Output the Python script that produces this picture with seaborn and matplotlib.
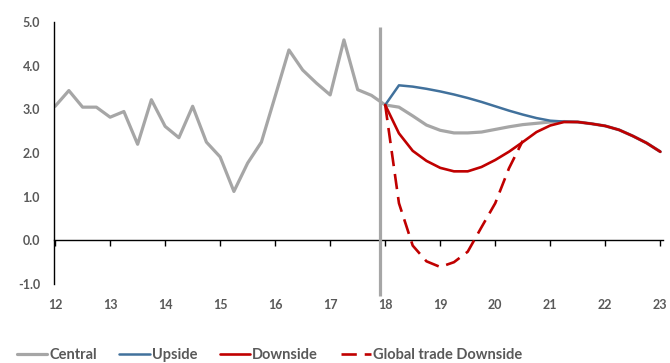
import numpy as np
import pandas as pd
import seaborn as sns
import matplotlib.pyplot as plt

# Trimestres 2012T1 .. 2023T1 (eje en años abreviados)
quarters = np.arange(12, 23.01, 0.25)

central_hist = [3.07, 3.43, 3.05, 3.05, 2.82, 2.95, 2.20, 3.22,
                2.61, 2.35, 3.07, 2.25, 1.91, 1.12, 1.77, 2.25,
                3.30, 4.36, 3.90, 3.60, 3.33, 4.59, 3.45, 3.32]
central_fcst = [3.10, 3.05, 2.85, 2.64, 2.52, 2.46, 2.46, 2.48,
                2.54, 2.60, 2.65, 2.68, 2.71, 2.72]
upside_fcst = [3.10, 3.55, 3.52, 3.47, 3.41, 3.34, 3.26, 3.17,
               3.07, 2.97, 2.88, 2.80, 2.74, 2.72]
downside_fcst = [3.10, 2.45, 2.05, 1.82, 1.66, 1.58, 1.58, 1.68,
                 1.84, 2.03, 2.25, 2.48, 2.63, 2.71]
common_tail = [2.71, 2.67, 2.62, 2.53, 2.39, 2.23, 2.03]
global_trade = [3.10, 0.85, -0.12, -0.48, -0.61, -0.50, -0.26, 0.30,
                0.85, 1.65, 2.28]

x_ticks = list(range(12, 24))
y_ticks = [-1, 0, 1, 2, 3, 4, 5]
cutoff_x = 17.9
cutoff_lo, cutoff_hi = -1.27, 4.88

gris = "#A6A6A6"
azul = "#41719C"
rojo = "#C00000"
texto = "#595959"

sns.set_style("white")
plt.rcParams["font.family"] = ["Lato", "DejaVu Sans"]

central = pd.DataFrame({"x": quarters, "y": central_hist + central_fcst + common_tail})
upside = pd.DataFrame({"x": quarters[24:], "y": upside_fcst + common_tail})
downside = pd.DataFrame({"x": quarters[24:], "y": downside_fcst + common_tail})
glob = pd.DataFrame({"x": quarters[24:24 + len(global_trade)], "y": global_trade})

fig = plt.figure(figsize=(6.7, 3.63), dpi=100)
ax = fig.add_axes([0.0806, 0.2176, 0.909, 0.7218])

sns.lineplot(data=central, x="x", y="y", ax=ax, color=gris, lw=2.3, label="Central")
ax.vlines(cutoff_x, cutoff_lo, cutoff_hi, color=gris, lw=2.3, clip_on=False)
sns.lineplot(data=upside, x="x", y="y", ax=ax, color=azul, lw=1.8, label="Upside")
sns.lineplot(data=downside, x="x", y="y", ax=ax, color=rojo, lw=1.9, label="Downside")
sns.lineplot(data=glob, x="x", y="y", ax=ax, color=rojo, lw=1.9,
             linestyle=(0, (5.8, 3.0)), label="Global trade Downside")

ax.set_xlim(11.98, 23.05)
ax.set_ylim(-1, 5)
ax.set_xlabel("")
ax.set_ylabel("")

for s in ["top", "right", "bottom"]:
    ax.spines[s].set_visible(False)
ax.spines["left"].set_color("black")
ax.spines["left"].set_linewidth(1)

ax.set_xticks(x_ticks)
ax.set_xticklabels([str(t) for t in x_ticks])
ax.set_yticks(y_ticks)
ax.set_yticklabels([f"{v:.1f}" for v in y_ticks])
ax.tick_params(axis="x", length=0, pad=11, labelsize=9, labelcolor=texto)
ax.tick_params(axis="y", length=0, pad=10, labelsize=9, labelcolor=texto)
for lab in ax.get_xticklabels() + ax.get_yticklabels():
    lab.set_fontweight("bold")

# eje horizontal en y=0 con marcas hacia abajo
sec = ax.secondary_xaxis(1 / 6)
sec.set_xticks(x_ticks)
sec.tick_params(direction="out", length=4, width=1, color="black", labelbottom=False)
sec.spines["bottom"].set_color("black")
sec.spines["bottom"].set_linewidth(1)

handles, labels = ax.get_legend_handles_labels()
ax.get_legend().remove()
fig.legend(handles, labels, loc="center left", bbox_to_anchor=(0.025, 0.022),
           ncol=4, frameon=False, handlelength=2.1, handletextpad=0.12,
           columnspacing=1.55, borderpad=0, borderaxespad=0,
           prop={"size": 10.5, "weight": "bold"}, labelcolor=texto)

fig.savefig("out.png", dpi=100)
